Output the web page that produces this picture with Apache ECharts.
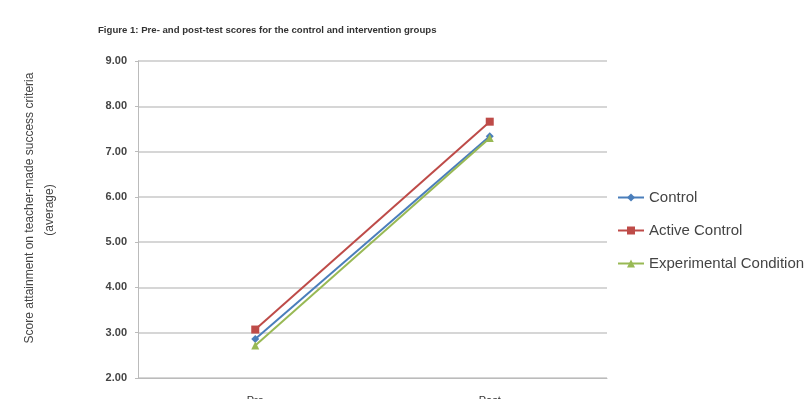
<!DOCTYPE html>
<html>
<head>
<meta charset="utf-8">
<script src="https://cdn.jsdelivr.net/npm/echarts@6/dist/echarts.min.js"></script>
<style>
  html, body { margin: 0; padding: 0; background: #fff; }
  #main { width: 804px; height: 399px; }
</style>
</head>
<body>
<div id="main"></div>
<script>
// categories and series values
var categories = ["Pre", "Post"];
var controlScores = [2.86, 7.34];
var activeControlScores = [3.07, 7.66];
var experimentalScores = [2.72, 7.30];
var seriesNames = ["Control", "Active Control", "Experimental Condition"];
var yAxisTitle = ["Score attainment on teacher-made success criteria", "(average)"];

var myChart = echarts.init(document.getElementById("main"));

var option = {
  backgroundColor: "#fff",
  textStyle: { fontFamily: "Liberation Sans" },
  title: {
    text: "Figure 1: Pre- and post-test scores for the control and intervention groups",
    left: 93,
    top: 20,
    textStyle: { fontSize: 9.6, fontWeight: "bold", color: "#333" }
  },
  // rotated y axis title, two lines
  graphic: [
    {
      type: "text", x: 30, y: 208, rotation: Math.PI / 2,
      style: { text: yAxisTitle[0], fontSize: 12, fill: "#444", align: "center", verticalAlign: "middle", fontFamily: "Liberation Sans" }
    },
    {
      type: "text", x: 50, y: 210, rotation: Math.PI / 2,
      style: { text: yAxisTitle[1], fontSize: 12, fill: "#444", align: "center", verticalAlign: "middle", fontFamily: "Liberation Sans" }
    }
  ],
  legend: {
    orient: "vertical",
    left: 612,
    top: 185,
    itemGap: 18,
    itemWidth: 26,
    itemHeight: 10,
    textStyle: { fontSize: 15, color: "#444" },
    data: seriesNames
  },
  grid: { left: 138, right: 197, top: 61, bottom: 21, outerBoundsMode: "none" },
  xAxis: {
    type: "category",
    data: categories,
    boundaryGap: true,
    axisLine: { lineStyle: { color: "#bbb" } },
    axisTick: { show: false },
    axisLabel: { fontSize: 11, color: "#333", margin: 17 }
  },
  yAxis: {
    type: "value",
    min: 2,
    max: 9,
    interval: 1,
    axisLine: { show: true, lineStyle: { color: "#bbb" } },
    axisTick: { show: true, length: 3, lineStyle: { color: "#bbb" } },
    axisLabel: {
      fontSize: 11, fontWeight: "bold", color: "#444", margin: 11,
      formatter: function (v) { return v.toFixed(2); }
    },
    splitLine: { lineStyle: { color: "#d6d6d6", width: 2 } }
  },
  series: [
    {
      name: seriesNames[0], type: "line", data: controlScores,
      symbol: "diamond", symbolSize: 8,
      itemStyle: { color: "#4a7ebb" }, lineStyle: { width: 2 }
    },
    {
      name: seriesNames[1], type: "line", data: activeControlScores,
      symbol: "rect", symbolSize: 8,
      itemStyle: { color: "#be4b48" }, lineStyle: { width: 2 }
    },
    {
      name: seriesNames[2], type: "line", data: experimentalScores,
      symbol: "triangle", symbolSize: 8,
      itemStyle: { color: "#98b954" }, lineStyle: { width: 2 }
    }
  ]
};

myChart.setOption(option);
</script>
</body>
</html>
